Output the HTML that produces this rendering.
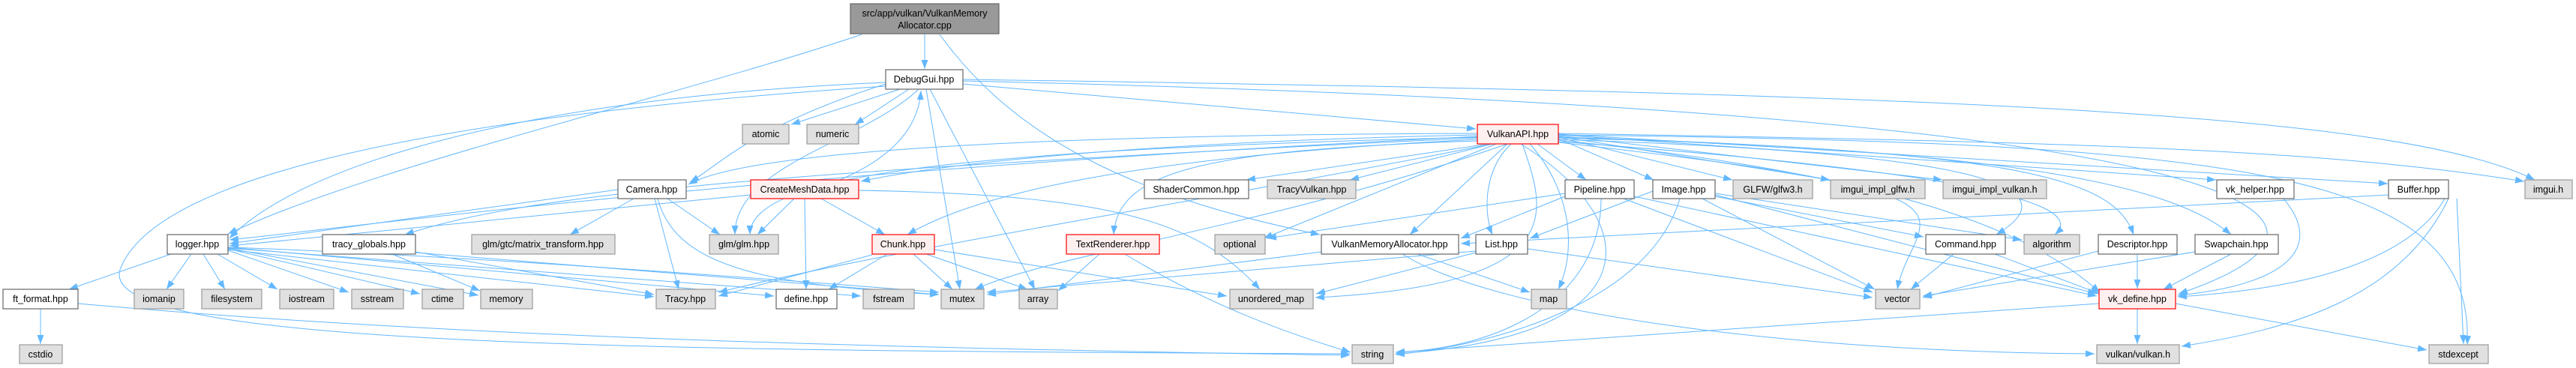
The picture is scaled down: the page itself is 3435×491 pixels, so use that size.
<!DOCTYPE html>
<html><head><meta charset="utf-8"><style>
html,body{margin:0;padding:0;background:#fff;}
svg{display:block;}
text{font-family:"Liberation Sans",sans-serif;font-size:12.5px;fill:#000;text-anchor:middle;}
.g{fill:#e0e0e0;stroke:#999;stroke-width:1.2}
.w{fill:#fff;stroke:#666;stroke-width:1.2}
.r{fill:#fff0f0;stroke:#f00;stroke-width:1.2}
.t{fill:#999;stroke:#666;stroke-width:1.2}
path{fill:none;stroke:#63b8ff;stroke-width:1;marker-end:url(#a)}
</style></head><body>
<svg width="3435" height="491" viewBox="0 0 3435 491" xmlns="http://www.w3.org/2000/svg">
<defs><marker id="a" markerWidth="12" markerHeight="9" refX="12" refY="4.5" orient="auto" markerUnits="userSpaceOnUse"><polygon points="0,0 12,4.5 0,9" fill="#63b8ff" stroke="none"/></marker></defs>
<g>
<path d="M1233,45 L1233,92"/>
<path d="M1149,46 C900,130 500,220 304,312"/>
<path d="M1253,46 C1350,180 1500,260 1760,313"/>
<path d="M1200,119 L1055,166"/>
<path d="M1212,119 L1140,166"/>
<path d="M1284,112 L1968,172"/>
<path d="M1284,106 C2600,125 3200,150 3380,240"/>
<path d="M1284,108 C3100,150 3180,300 2905,392"/>
<path d="M1181,112 C1000,170 960,220 920,243"/>
<path d="M1225,119 C1150,190 980,220 980,313"/>
<path d="M1235,119 L1280,386"/>
<path d="M1240,119 L1380,386"/>
<path d="M1181,110 C700,130 400,220 306,318"/>
<path d="M1181,115 C500,160 200,250 160,360 C130,460 800,468 1800,472"/>
<path d="M1120,240 C1190,210 1225,170 1228,121"/>
<path d="M1970,178 C1400,180 1000,200 918,246"/>
<path d="M1970,180 C1500,190 1250,220 1148,242"/>
<path d="M1985,192 L1662,240"/>
<path d="M1990,192 L1800,240"/>
<path d="M2050,192 L2115,240"/>
<path d="M2078,185 L2205,240"/>
<path d="M2078,183 L2310,240"/>
<path d="M2078,182 L2440,240"/>
<path d="M2078,181 L2590,240"/>
<path d="M2078,180 L2955,240"/>
<path d="M2078,179 L3184,245"/>
<path d="M2078,178 C2800,190 3100,200 3366,242"/>
<path d="M1970,182 C1000,230 500,300 306,320"/>
<path d="M1970,184 C1000,230 700,260 540,313"/>
<path d="M1970,183 C1300,200 1000,230 1000,313"/>
<path d="M1970,186 C1500,210 1300,260 1210,313"/>
<path d="M1970,188 C1600,200 1490,230 1485,313"/>
<path d="M1995,192 L1685,318"/>
<path d="M2010,192 L1880,313"/>
<path d="M2015,192 C1975,230 1980,290 1990,313"/>
<path d="M2030,192 C2060,280 2100,380 1754,397"/>
<path d="M2040,192 C2100,260 2100,340 2078,386"/>
<path d="M2028,192 C2200,300 2200,450 1861,472"/>
<path d="M2010,192 C1700,300 1400,340 1300,386"/>
<path d="M1990,192 C1600,270 1200,330 958,390"/>
<path d="M2078,186 C2500,200 2800,230 2662,313"/>
<path d="M2078,184 C2700,200 2820,240 2845,313"/>
<path d="M2078,183 C2700,200 2900,250 2975,313"/>
<path d="M2078,187 C2500,230 2700,300 2800,390"/>
<path d="M2078,180 C3000,190 3300,230 3290,460"/>
<path d="M2078,190 C2700,260 2550,280 2530,386"/>
<path d="M2078,189 C2500,220 2800,260 2740,313"/>
<path d="M845,265 L760,313"/>
<path d="M890,265 L960,313"/>
<path d="M873,265 L905,386"/>
<path d="M877,265 C900,350 1000,380 1252,393"/>
<path d="M824,253 L306,325"/>
<path d="M1059,265 L1010,313"/>
<path d="M1073,265 L1075,386"/>
<path d="M1095,265 L1180,313"/>
<path d="M1145,254 C1500,260 1600,300 1680,386"/>
<path d="M1001,260 L306,328"/>
<path d="M1163,340 L958,395"/>
<path d="M1183,339 L1105,386"/>
<path d="M1218,339 L1270,386"/>
<path d="M1235,339 L1370,386"/>
<path d="M1246,333 L1636,395"/>
<path d="M228,339 L92,386"/>
<path d="M255,339 L222,386"/>
<path d="M271,339 L300,386"/>
<path d="M290,339 L370,386"/>
<path d="M304,334 L465,390"/>
<path d="M304,332 L560,392"/>
<path d="M304,331 L638,394"/>
<path d="M304,330 C600,340 1000,370 1252,390"/>
<path d="M304,333 L872,396"/>
<path d="M304,330 L1032,395"/>
<path d="M304,331 L1148,395"/>
<path d="M523,339 L640,388"/>
<path d="M554,336 L872,393"/>
<path d="M554,337 L1252,393"/>
<path d="M54,412 L54,459"/>
<path d="M104,405 C600,450 1200,465 1800,474"/>
<path d="M1466,339 L1411,388"/>
<path d="M1500,339 C1600,400 1700,440 1801,470"/>
<path d="M1890,339 L2040,390"/>
<path d="M1870,339 C2000,420 2400,470 2793,472"/>
<path d="M1762,336 L1316,393"/>
<path d="M1968,337 L1755,392"/>
<path d="M2037,332 L2497,397"/>
<path d="M1968,335 L1316,390"/>
<path d="M2087,258 L1690,318"/>
<path d="M2135,265 C2135,400 2000,465 1861,470"/>
<path d="M2165,265 L2497,390"/>
<path d="M2179,262 L2796,395"/>
<path d="M2087,262 L1948,318"/>
<path d="M2270,265 L2500,386"/>
<path d="M2287,260 L2796,392"/>
<path d="M2287,258 L2696,320"/>
<path d="M2287,262 L2565,316"/>
<path d="M2240,265 C2200,400 2000,460 1861,473"/>
<path d="M2204,255 L2040,318"/>
<path d="M2605,339 L2548,386"/>
<path d="M2660,339 L2800,392"/>
<path d="M2850,339 L2850,385"/>
<path d="M2798,335 L2564,397"/>
<path d="M2975,339 L2885,386"/>
<path d="M2927,336 L2564,395"/>
<path d="M3045,265 C3100,330 3050,380 2904,394"/>
<path d="M3260,265 C3200,370 3000,390 2904,396"/>
<path d="M3265,265 C3200,400 3050,440 2909,462"/>
<path d="M3276,265 L3285,459"/>
<path d="M3185,260 L1948,325"/>
<path d="M2850,412 L2850,459"/>
<path d="M2901,405 L3236,467"/>
<path d="M2799,405 L1861,470"/>
</g>
<g>
<rect class="t" x="1134" y="5" width="198" height="40"/><text x="1233" y="22">src/app/vulkan/VulkanMemory</text><text x="1233" y="38">Allocator.cpp</text>
<rect class="w" x="1181" y="93" width="103" height="26"/><text x="1232" y="110">DebugGui.hpp</text>
<rect class="g" x="990" y="166" width="62" height="26"/><text x="1021" y="183">atomic</text>
<rect class="g" x="1076" y="166" width="69" height="26"/><text x="1110" y="183">numeric</text>
<rect class="r" x="1970" y="166" width="108" height="26"/><text x="2024" y="183">VulkanAPI.hpp</text>
<rect class="w" x="824" y="240" width="91" height="25"/><text x="869" y="257">Camera.hpp</text>
<rect class="r" x="1001" y="240" width="144" height="25"/><text x="1073" y="257">CreateMeshData.hpp</text>
<rect class="w" x="1526" y="240" width="139" height="25"/><text x="1595" y="257">ShaderCommon.hpp</text>
<rect class="g" x="1690" y="240" width="118" height="25"/><text x="1749" y="257">TracyVulkan.hpp</text>
<rect class="w" x="2087" y="240" width="92" height="25"/><text x="2133" y="257">Pipeline.hpp</text>
<rect class="w" x="2204" y="240" width="83" height="25"/><text x="2245" y="257">Image.hpp</text>
<rect class="g" x="2311" y="240" width="106" height="25"/><text x="2364" y="257">GLFW/glfw3.h</text>
<rect class="g" x="2441" y="240" width="126" height="25"/><text x="2504" y="257">imgui_impl_glfw.h</text>
<rect class="g" x="2591" y="240" width="138" height="25"/><text x="2660" y="257">imgui_impl_vulkan.h</text>
<rect class="w" x="2956" y="240" width="103" height="25"/><text x="3007" y="257">vk_helper.hpp</text>
<rect class="w" x="3185" y="240" width="80" height="25"/><text x="3225" y="257">Buffer.hpp</text>
<rect class="g" x="3367" y="240" width="63" height="25"/><text x="3398" y="257">imgui.h</text>
<rect class="w" x="223" y="313" width="81" height="26"/><text x="263" y="330">logger.hpp</text>
<rect class="w" x="430" y="313" width="124" height="26"/><text x="492" y="330">tracy_globals.hpp</text>
<rect class="g" x="629" y="313" width="191" height="26"/><text x="724" y="330">glm/gtc/matrix_transform.hpp</text>
<rect class="g" x="946" y="313" width="92" height="26"/><text x="992" y="330">glm/glm.hpp</text>
<rect class="r" x="1163" y="313" width="83" height="26"/><text x="1204" y="330">Chunk.hpp</text>
<rect class="r" x="1422" y="313" width="124" height="26"/><text x="1484" y="330">TextRenderer.hpp</text>
<rect class="g" x="1620" y="313" width="67" height="26"/><text x="1653" y="330">optional</text>
<rect class="w" x="1762" y="313" width="183" height="26"/><text x="1853" y="330">VulkanMemoryAllocator.hpp</text>
<rect class="w" x="1968" y="313" width="69" height="26"/><text x="2002" y="330">List.hpp</text>
<rect class="w" x="2568" y="313" width="106" height="26"/><text x="2621" y="330">Command.hpp</text>
<rect class="g" x="2699" y="313" width="74" height="26"/><text x="2736" y="330">algorithm</text>
<rect class="w" x="2798" y="313" width="105" height="26"/><text x="2850" y="330">Descriptor.hpp</text>
<rect class="w" x="2927" y="313" width="111" height="26"/><text x="2982" y="330">Swapchain.hpp</text>
<rect class="w" x="4" y="386" width="100" height="26"/><text x="54" y="403">ft_format.hpp</text>
<rect class="g" x="179" y="386" width="66" height="26"/><text x="212" y="403">iomanip</text>
<rect class="g" x="269" y="386" width="80" height="26"/><text x="309" y="403">filesystem</text>
<rect class="g" x="373" y="386" width="72" height="26"/><text x="409" y="403">iostream</text>
<rect class="g" x="469" y="386" width="69" height="26"/><text x="503" y="403">sstream</text>
<rect class="g" x="563" y="386" width="55" height="26"/><text x="590" y="403">ctime</text>
<rect class="g" x="641" y="386" width="69" height="26"/><text x="675" y="403">memory</text>
<rect class="g" x="875" y="386" width="79" height="26"/><text x="914" y="403">Tracy.hpp</text>
<rect class="w" x="1035" y="386" width="81" height="26"/><text x="1075" y="403">define.hpp</text>
<rect class="g" x="1151" y="386" width="68" height="26"/><text x="1185" y="403">fstream</text>
<rect class="g" x="1255" y="386" width="57" height="26"/><text x="1283" y="403">mutex</text>
<rect class="g" x="1359" y="386" width="51" height="26"/><text x="1384" y="403">array</text>
<rect class="g" x="1640" y="386" width="111" height="26"/><text x="1695" y="403">unordered_map</text>
<rect class="g" x="2042" y="386" width="47" height="26"/><text x="2065" y="403">map</text>
<rect class="g" x="2501" y="386" width="59" height="26"/><text x="2530" y="403">vector</text>
<rect class="r" x="2799" y="386" width="102" height="26"/><text x="2850" y="403">vk_define.hpp</text>
<rect class="g" x="26" y="460" width="57" height="25"/><text x="54" y="477">cstdio</text>
<rect class="g" x="1803" y="460" width="55" height="25"/><text x="1830" y="477">string</text>
<rect class="g" x="2796" y="460" width="110" height="25"/><text x="2851" y="477">vulkan/vulkan.h</text>
<rect class="g" x="3239" y="460" width="79" height="25"/><text x="3278" y="477">stdexcept</text>
</g>
</svg>
</body></html>
